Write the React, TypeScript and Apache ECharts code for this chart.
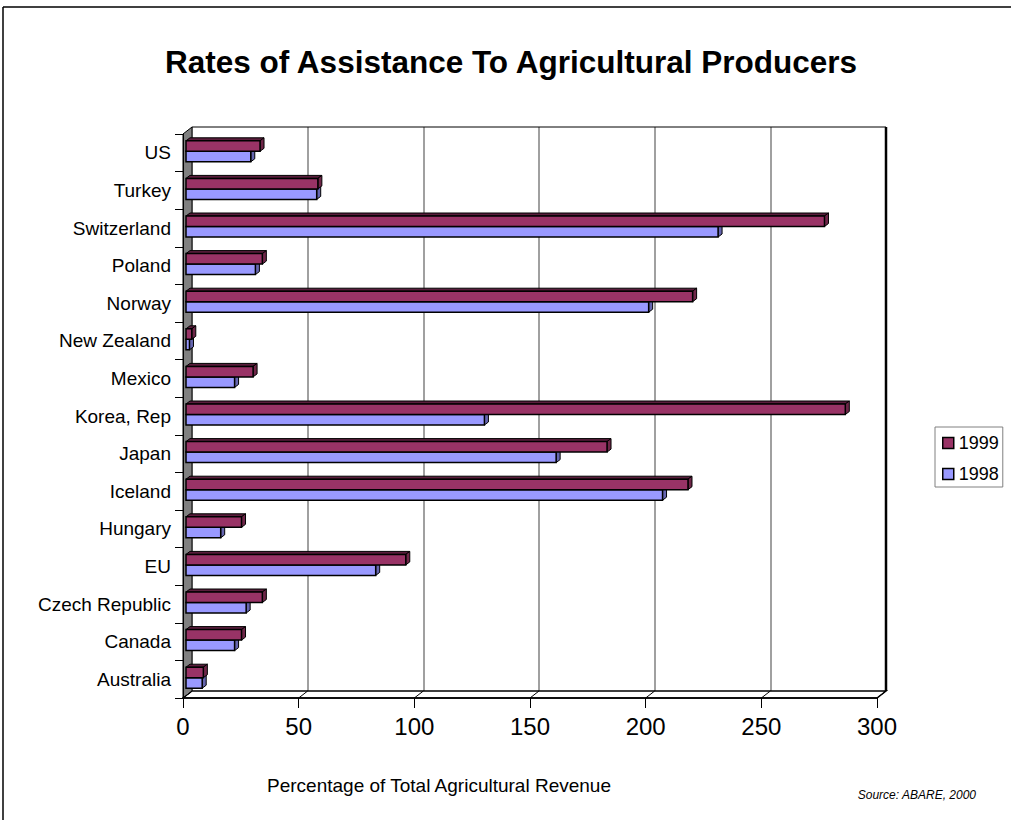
import React, { useEffect, useRef } from "react";
import * as echarts from "echarts";

const categories = [
  "Australia", "Canada", "Czech Republic", "EU", "Hungary", "Iceland", "Japan",
  "Korea, Rep", "Mexico", "New Zealand", "Norway", "Poland", "Switzerland", "Turkey", "US",
];
const values1999 = [7.5, 24, 33, 95, 24, 217, 182, 285, 29, 2.5, 219, 33, 276, 57, 32];
const values1998 = [7, 21, 26, 82, 15, 206, 160, 129, 21, 1.5, 200, 30, 230, 56.5, 28];
const xTicks = [0, 50, 100, 150, 200, 250, 300];
const seriesNames = ["1999", "1998"];

const FONT = "'Liberation Sans', Arial, sans-serif";
const DX = 9; // depth offset of back wall
const DY = 7;
const BDX = 4; // bar depth
const BDY = 3;

const colors: Record<string, { front: string; top: string; side: string }> = {
  "1999": { front: "#993366", top: "#5a1d3c", side: "#6e2648" },
  "1998": { front: "#9999ff", top: "#55558f", side: "#6666b0" },
};

function makeRender(name: string, topOff: number) {
  const c = colors[name];
  return (params: any, api: any) => {
    const val = api.value(0);
    const cat = api.value(1);
    const p0 = api.coord([0, cat]);
    const p1 = api.coord([val, cat]);
    const x0 = p0[0] + 3;
    const x1 = p1[0] + 3;
    const top = p0[1] + topOff;
    const h = 10.5;
    return {
      type: "group",
      children: [
        {
          type: "polygon",
          shape: { points: [[x0, top], [x0 + BDX, top - BDY], [x1 + BDX, top - BDY], [x1, top]] },
          style: { fill: c.top, stroke: "#000", lineWidth: 1 },
        },
        {
          type: "polygon",
          shape: { points: [[x1, top], [x1 + BDX, top - BDY], [x1 + BDX, top + h - BDY], [x1, top + h]] },
          style: { fill: c.side, stroke: "#000", lineWidth: 1 },
        },
        {
          type: "rect",
          shape: { x: x0, y: top, width: Math.max(x1 - x0, 0.5), height: h },
          style: { fill: c.front, stroke: "#000", lineWidth: 1.5 },
        },
      ],
    };
  };
}

export default function App() {
  const ref = useRef<HTMLDivElement>(null);
  useEffect(() => {
    if (!ref.current) return;
    const chart = echarts.init(ref.current, null, { renderer: "svg" });
    const gridFront = { left: 183, top: 134, width: 694, height: 564 };
    const gridBack = { left: 183 + DX, top: 134 - DY, width: 694, height: 564 };
    const option: any = {
      animation: false,
      backgroundColor: "#ffffff",
      textStyle: { fontFamily: FONT },
      grid: [gridFront, gridBack],
      xAxis: [
        {
          type: "value", gridIndex: 0, min: 0, max: 300, interval: 50,
          axisLine: { show: true, lineStyle: { color: "#000", width: 1.5 } },
          axisTick: { show: true, length: 10, lineStyle: { color: "#000", width: 1 } },
          axisLabel: { fontSize: 24, color: "#000", margin: 16, fontFamily: FONT },
          splitLine: { show: false },
          z: 5,
        },
        {
          type: "value", gridIndex: 1, min: 0, max: 300, interval: 50,
          axisLine: { show: false },
          axisTick: { show: false },
          axisLabel: { show: false },
          splitLine: { show: true, lineStyle: { color: "#808080", width: 1.5 } },
        },
      ],
      yAxis: [
        {
          type: "category", gridIndex: 0, data: categories,
          axisLine: { show: true, lineStyle: { color: "#000", width: 1 } },
          axisTick: { show: true, length: 8, lineStyle: { color: "#000", width: 1 } },
          axisLabel: { fontSize: 19, color: "#000", margin: 12, fontFamily: FONT },
          z: 5,
        },
        {
          type: "category", gridIndex: 1, data: categories, show: false,
        },
      ],
      legend: {
        orient: "vertical",
        left: 935,
        top: 427,
        padding: [7, 4, 4, 7],
        itemGap: 13,
        itemWidth: 11,
        itemHeight: 11,
        icon: "rect",
        borderColor: "#808080",
        borderWidth: 1,
        data: seriesNames,
        textStyle: { fontSize: 18, color: "#000", fontFamily: FONT },
        itemStyle: { borderColor: "#000", borderWidth: 1.5 },
      },
      series: [
        {
          name: "1998", type: "custom", xAxisIndex: 0, yAxisIndex: 0, z: 3,
          itemStyle: { color: colors["1998"].front, borderColor: "#000", borderWidth: 1.5 },
          encode: { x: 0, y: 1 },
          renderItem: makeRender("1998", -1.5),
          data: values1998.map((v, i) => [v, i]),
        },
        {
          name: "1999", type: "custom", xAxisIndex: 0, yAxisIndex: 0, z: 4,
          itemStyle: { color: colors["1999"].front, borderColor: "#000", borderWidth: 1.5 },
          encode: { x: 0, y: 1 },
          renderItem: makeRender("1999", -12),
          data: values1999.map((v, i) => [v, i]),
        },
      ],
    };
    chart.setOption(option);

    const px = (v: number) => chart.convertToPixel({ xAxisIndex: 0 }, v) as number;
    const yTop = gridFront.top;
    const yBot = gridFront.top + gridFront.height;
    const xL = px(0);
    const xR = px(300);
    const graphic: any[] = [
      // outer frame
      { type: "line", z: 10, shape: { x1: 3, y1: 7, x2: 1011, y2: 7 }, style: { stroke: "#000", lineWidth: 1.5 } },
      { type: "line", z: 10, shape: { x1: 3, y1: 7, x2: 3, y2: 820 }, style: { stroke: "#000", lineWidth: 1.5 } },
      // back wall top & right border
      { type: "line", z: 1, shape: { x1: xL + DX, y1: yTop - DY, x2: xR + DX, y2: yTop - DY }, style: { stroke: "#000", lineWidth: 1 } },
      { type: "line", z: 1, shape: { x1: xR + DX, y1: yTop - DY, x2: xR + DX, y2: yBot - DY }, style: { stroke: "#000", lineWidth: 2.5 } },
      // floor
      {
        type: "polygon", z: 1,
        shape: { points: [[xL, yBot], [xR, yBot], [xR + DX, yBot - DY], [xL + DX, yBot - DY]] },
        style: { fill: "#ffffff", stroke: "#000", lineWidth: 1.5 },
      },
      // left wall
      {
        type: "polygon", z: 2,
        shape: { points: [[xL, yTop], [xL + DX, yTop - DY], [xL + DX, yBot - DY], [xL, yBot]] },
        style: { fill: "#808080", stroke: "#000", lineWidth: 1 },
      },
      // title
      {
        type: "text", z: 10, x: 511, y: 62,
        style: { text: "Rates of Assistance To Agricultural Producers", fill: "#000", font: `bold 31.5px ${FONT}`, textAlign: "center", textVerticalAlign: "middle" },
      },
      {
        type: "text", z: 10, x: 439, y: 785,
        style: { text: "Percentage of Total Agricultural Revenue", fill: "#000", font: `19px ${FONT}`, textAlign: "center", textVerticalAlign: "middle" },
      },
      {
        type: "text", z: 10, x: 976, y: 795,
        style: { text: "Source: ABARE, 2000", fill: "#000", font: `italic 12px ${FONT}`, textAlign: "right", textVerticalAlign: "middle" },
      },
    ];
    xTicks.forEach((t) => {
      const x = px(t);
      graphic.push({
        type: "line", z: 2,
        shape: { x1: x, y1: yBot, x2: x + DX, y2: yBot - DY },
        style: { stroke: "#000", lineWidth: 1 },
      });
    });
    chart.setOption({ graphic });

    return () => chart.dispose();
  }, []);
  return (
    <div
      ref={ref}
      style={{ position: "absolute", left: 0, top: 0, width: 1011, height: 820, background: "#fff" }}
    />
  );
}
